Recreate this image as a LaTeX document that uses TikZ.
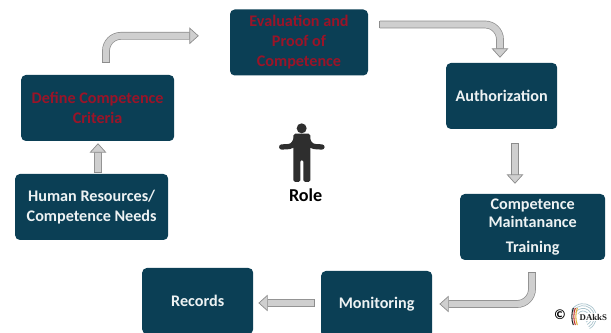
\documentclass[tikz,border=0pt]{standalone}
\usepackage{fontspec}
\setmainfont{Carlito}
\newfontfamily\logofont{Liberation Serif}
\usepackage{xcolor}
\usetikzlibrary{arrows.meta}

\definecolor{boxblue}{HTML}{0B3F55}
\definecolor{boxred}{HTML}{9A1428}
\definecolor{boxwhite}{HTML}{EDF2F3}
\definecolor{arrowfill}{HTML}{CFCFCF}
\definecolor{arrowline}{HTML}{8C8C8C}
\definecolor{figgray}{HTML}{2E2E2E}
\definecolor{logoblue}{HTML}{A9C3CC}
\definecolor{logoblack}{HTML}{222222}
\definecolor{logored}{HTML}{C2332B}
\definecolor{logogold}{HTML}{E0B03A}

\tikzset{
  stagebox/.style={shape=rectangle,rounded corners=4pt,fill=boxblue,text=boxwhite,align=center,
    inner sep=0pt,minimum height=1.98cm,font=\fontsize{13.8}{17}\selectfont\bfseries},
  stagered/.style={stagebox,text=boxred},
  blockarrow/.style={draw=arrowline,line width=.6pt,double=arrowfill,double distance=5.4pt,rounded corners=.45cm,
    {Bar[width=6.6pt,line width=.6pt,color=arrowline]}-{Triangle[length=.28cm,width=.5cm,line width=.6pt,color=arrowline,fill=arrowfill]}},
}

\begin{document}
\begin{tikzpicture}
\useasboundingbox (0,0) rectangle (18.33,9.99);

\node[stagered,minimum width=4.14cm] (eval) at (8.97,8.715) {Evaluation and\\Proof of\\Competence};
\node[stagebox,minimum width=3.33cm] (auth) at (15.05,7.11) {Authorization};
\node[stagebox,minimum width=4.35cm] (maint) at (15.98,3.18) {Competence\\[-1.6pt]Maintanance\\[4.5pt]Training};
\node[stagebox,minimum width=3.33cm] (monitor) at (11.3,0.87) {Monitoring};
\node[stagebox,minimum width=3.33cm] (records) at (5.93,0.96) {Records};
\node[stagebox,minimum width=4.59cm] (human) at (2.75,3.78) {Human Resources/\\Competence Needs};
\node[stagered,minimum width=4.59cm] (define) at (2.93,6.75) {Define Competence\\Criteria};

\draw[blockarrow] ([xshift=.19cm,yshift=.03cm]human.north) -- ([xshift=.01cm,yshift=-.06cm]define.south);
\draw[blockarrow] ([xshift=.25cm,yshift=.36cm]define.north) |- ([xshift=-.93cm,yshift=.2cm]eval.west);
\draw[blockarrow] ([xshift=.33cm,yshift=.54cm]eval.east) -| ([xshift=-.05cm,yshift=.15cm]auth.north);
\draw[blockarrow] ([xshift=.4cm,yshift=-.42cm]auth.south) -- ([xshift=.4cm,yshift=.3cm]auth.south |- maint.north);
\draw[blockarrow] ([xshift=-.02cm,yshift=-.36cm]maint.south) |- ([xshift=.21cm]monitor.east);
\draw[blockarrow] ([xshift=-.18cm,yshift=.03cm]monitor.west) -- ([xshift=.15cm,yshift=-.06cm]records.east);

\node[font=\fontsize{15.5}{17}\selectfont\bfseries,text=black,inner sep=0pt] (role) at (9.17,4.14) {Role};

\fill[figgray] (9.05,6.14) circle (.15);
\fill[figgray,rounded corners=1.5pt] (8.8,5.98) -- (9.31,5.98) -- (9.31,4.53) -- (9.1,4.53) -- (9.1,5.2) -- (9.01,5.2) -- (9.01,4.53) -- (8.8,4.53) -- cycle;
\draw[figgray,line width=4.5pt,line cap=round,rounded corners=3pt] (8.9,5.85) -- (8.78,5.6) -- (8.45,5.58);
\draw[figgray,line width=4.5pt,line cap=round,rounded corners=3pt] (9.2,5.85) -- (9.33,5.6) -- (9.66,5.58);

\node[font=\fontsize{12}{14}\selectfont\bfseries,text=black,inner sep=0pt] (copyr) at (16.8,.54) {\textcopyright};
\foreach \r in {.18,.26,.34,.4}
  \draw[logoblue,line width=.6pt] (17.49,.48) ++(-60:\r) arc (-60:150:\r);
\draw[logoblack,line width=.9pt] (17.2,.75) arc (160:200:.75);
\draw[logored,line width=.9pt] (17.26,.75) arc (160:200:.75);
\draw[logogold,line width=.9pt] (17.32,.75) arc (160:200:.75);
\node[font=\fontsize{7.5}{9}\selectfont\logofont\bfseries,text=logoblack,inner sep=.5pt,fill=white] (dakks) at (17.8,.48) {DAkkS};
\end{tikzpicture}
\end{document}
